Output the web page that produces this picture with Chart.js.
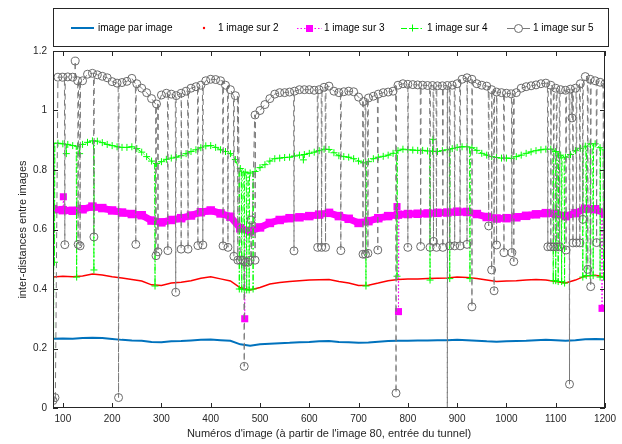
<!DOCTYPE html>
<html>
<head>
<meta charset="utf-8">
<script src="https://cdn.jsdelivr.net/npm/chart.js@4.4.1/dist/chart.umd.min.js"></script>
<style>
  html, body { margin: 0; padding: 0; background: #fff; }
  #grafico { display: block; }
</style>
</head>
<body>
<canvas id="grafico" width="622" height="444"></canvas>
<script>
// ---- eixos ----
const xTicks = [100, 200, 300, 400, 500, 600, 700, 800, 900, 1000, 1100, 1200];
const yTicks = [0, 0.2, 0.4, 0.6, 0.8, 1, 1.2];

// numeros de imagem (80 -> 1200)
const xPasso20 = Array.from({ length: 57 }, (_, i) => 80 + 20 * i);
const xPasso10 = Array.from({ length: 113 }, (_, i) => 80 + 10 * i);

// image par image (passo 20)
const imagemPorImagem = [
  0.233, 0.234, 0.233, 0.235, 0.236, 0.235, 0.232, 0.229, 0.227, 0.226,
  0.222, 0.221, 0.224, 0.225, 0.227, 0.229, 0.230, 0.228, 0.226, 0.214,
  0.209, 0.214, 0.216, 0.218, 0.219, 0.221, 0.222, 0.224, 0.225, 0.222,
  0.221, 0.219, 0.220, 0.223, 0.225, 0.226, 0.226, 0.227, 0.227, 0.228,
  0.228, 0.229, 0.228, 0.226, 0.224, 0.223, 0.224, 0.225, 0.226, 0.228,
  0.229, 0.228, 0.226, 0.228, 0.231, 0.232, 0.231
];

// 1 image sur 2 (passo 20)
const umSobre2 = [
  0.440, 0.443, 0.441, 0.444, 0.450, 0.447, 0.441, 0.437, 0.432, 0.427,
  0.414, 0.412, 0.420, 0.423, 0.428, 0.436, 0.441, 0.434, 0.427, 0.404,
  0.397, 0.405, 0.417, 0.422, 0.425, 0.428, 0.430, 0.431, 0.432, 0.425,
  0.420, 0.412, 0.413, 0.420, 0.428, 0.432, 0.434, 0.434, 0.435, 0.436,
  0.437, 0.440, 0.439, 0.435, 0.430, 0.425, 0.427, 0.428, 0.430, 0.432,
  0.430, 0.425, 0.420, 0.430, 0.444, 0.446, 0.440
];

// 1 image sur 3 (passo 20) + pontos fora da faixa
const umSobre3 = [
  0.668, 0.665, 0.663, 0.668, 0.677, 0.672, 0.664, 0.657, 0.652, 0.648,
  0.630, 0.624, 0.632, 0.638, 0.647, 0.658, 0.664, 0.654, 0.643, 0.604,
  0.594, 0.607, 0.622, 0.632, 0.638, 0.641, 0.645, 0.650, 0.656, 0.645,
  0.636, 0.622, 0.628, 0.638, 0.645, 0.650, 0.652, 0.653, 0.654, 0.656,
  0.657, 0.660, 0.659, 0.652, 0.642, 0.637, 0.638, 0.641, 0.646, 0.651,
  0.655, 0.653, 0.645, 0.655, 0.670, 0.668, 0.655
];
const picos3X = [101, 469, 778, 781, 1194];
const picos3Y = [0.710, 0.300, 0.677, 0.324, 0.335];

// 1 image sur 4 (passo 10) + quedas
const umSobre4 = [
  0.890, 0.890, 0.888, 0.886, 0.882, 0.880, 0.886, 0.893, 0.898, 0.897,
  0.892, 0.886, 0.882, 0.878, 0.876, 0.876, 0.878, 0.872, 0.860, 0.845,
  0.830, 0.822, 0.828, 0.836, 0.840, 0.843, 0.848, 0.855, 0.862, 0.868,
  0.875, 0.881, 0.882, 0.876, 0.868, 0.862, 0.855, 0.835, 0.805, 0.793,
  0.790, 0.795, 0.808, 0.818, 0.830, 0.838, 0.840, 0.842, 0.843, 0.847,
  0.850, 0.852, 0.856, 0.860, 0.865, 0.870, 0.869, 0.858, 0.848, 0.845,
  0.843, 0.838, 0.830, 0.824, 0.828, 0.838, 0.843, 0.846, 0.850, 0.856,
  0.865, 0.870, 0.868, 0.867, 0.866, 0.866, 0.864, 0.863, 0.862, 0.865,
  0.868, 0.872, 0.876, 0.878, 0.878, 0.875, 0.866, 0.856, 0.850, 0.845,
  0.842, 0.840, 0.840, 0.839, 0.845, 0.850, 0.856, 0.861, 0.865, 0.868,
  0.870, 0.870, 0.862, 0.850, 0.843, 0.852, 0.865, 0.873, 0.880, 0.888,
  0.888, 0.875, 0.868
];
const quedas4X = [81, 83, 107, 128, 134, 163, 287, 458, 463, 468, 473, 478, 486, 588,
  715, 778, 845, 851, 885, 926, 1095, 1100, 1105, 1112, 1118, 1155, 1162, 1170, 1176, 1190, 1197];
const quedas4Y = [0.0, 0.49, 0.855, 0.44, 0.855, 0.464, 0.41, 0.40, 0.40, 0.398, 0.397, 0.397, 0.40, 0.834,
  0.41, 0.443, 0.43, 0.903, 0.435, 0.435, 0.428, 0.428, 0.425, 0.425, 0.42, 0.44, 0.445, 0.445, 0.445, 0.44, 0.44];

// 1 image sur 5 (passo 10) + quedas
const umSobre5 = [
  0.025, 1.112, 1.112, 1.113, 1.112, 1.100, 1.100, 1.122, 1.125, 1.120,
  1.115, 1.110, 1.097, 1.092, 1.094, 1.098, 1.108, 1.090, 1.075, 1.060,
  1.040, 1.022, 1.052, 1.058, 1.055, 1.050, 1.058, 1.065, 1.075, 1.080,
  1.085, 1.100, 1.105, 1.104, 1.100, 1.085, 1.070, 1.050, 0.497, 0.490,
  0.497, 0.985, 1.000, 1.020, 1.040, 1.055, 1.060, 1.060, 1.062, 1.065,
  1.070, 1.070, 1.070, 1.068, 1.070, 1.078, 1.082, 1.065, 1.060, 1.063,
  1.065, 1.063, 1.045, 1.030, 1.042, 1.048, 1.055, 1.060, 1.062, 1.065,
  1.085, 1.090, 1.088, 1.087, 1.086, 1.085, 1.084, 1.084, 1.083, 1.083,
  1.084, 1.085, 1.090, 1.105, 1.110, 1.105, 1.090, 1.085, 1.082, 1.070,
  1.062, 1.060, 1.058, 1.056, 1.060, 1.075, 1.080, 1.083, 1.086, 1.090,
  1.092, 1.085, 1.075, 1.070, 1.068, 1.072, 1.075, 1.090, 1.114, 1.105,
  1.100, 1.095, 1.090
];
const quedas5X = [84, 104, 125, 131, 135, 163, 213, 248, 289, 293, 313, 329, 340, 354, 374, 384,
  425, 435, 447, 455, 465, 468, 476, 482, 490, 569, 617, 625, 633, 664, 709, 714, 719, 739,
  776, 800, 826, 845, 852, 858, 871, 880, 885, 895, 906, 920, 930, 964, 970, 975, 980, 995,
  1011, 1015, 1084, 1090, 1096, 1102, 1108, 1121, 1128, 1133, 1135, 1142, 1149, 1155, 1165,
  1171, 1183, 1197];
const quedas5Y = [0.035, 0.549, 1.166, 0.55, 0.545, 0.575, 0.035, 0.55, 0.512, 0.525, 0.529, 0.389,
  0.534, 0.534, 0.546, 0.548, 0.545, 0.54, 0.51, 0.497, 0.497, 0.14, 0.49, 0.632, 0.497, 0.528,
  0.54, 0.54, 0.54, 0.529, 0.517, 0.517, 0.52, 0.531, 0.05, 0.54, 0.543, 0.54, 0.56, 0.54, 0.54,
  -0.2, 0.545, 0.545, 0.545, 0.55, 0.34, 0.612, 0.464, 0.394, 0.548, 0.522, 0.522, 0.492, 0.542,
  0.542, 0.542, 0.542, 0.542, 0.531, 0.08, 0.975, 0.555, 0.555, 0.555, 0.634, 0.466, 0.408,
  0.556, 0.548];

// ---- montagem dos pontos ----
function pontos(xs, ys) {
  return xs.map((x, i) => ({ x: x, y: ys[i] }));
}

// insere as quedas como traços quase verticais, presos ao valor mais próximo
function comQuedas(base, qx, qy) {
  const pts = base.slice();
  qx.forEach((x, i) => {
    const perto = base.reduce((a, b) => Math.abs(b.x - x) < Math.abs(a.x - x) ? b : a);
    pts.push({ x: x - 0.8, y: perto.y, ancora: true });
    pts.push({ x: x, y: qy[i] });
    pts.push({ x: x + 0.8, y: perto.y, ancora: true });
  });
  return pts.sort((a, b) => a.x - b.x);
}

function soPicos(base, qx, qy) {
  const pts = [];
  qx.forEach((x, i) => {
    const perto = base.reduce((a, b) => Math.abs(b.x - x) < Math.abs(a.x - x) ? b : a);
    pts.push({ x: x - 0.8, y: perto.y, ancora: true });
    pts.push({ x: x, y: qy[i] });
    pts.push({ x: x + 0.8, y: perto.y, ancora: true });
    pts.push({ x: x + 0.9, y: null });
  });
  return pts;
}

const base3 = pontos(xPasso20, umSobre3);
const base4 = pontos(xPasso10, umSobre4);
const base5 = pontos(xPasso10, umSobre5);

const raio = r => c => (c.raw && c.raw.ancora ? 0 : r);

const AZUL = "#0072bd";
const VERMELHO = "#ff0000";
const MAGENTA = "#ff00ff";
const VERDE = "#00ff00";
const CINZA = "#7a7a7a";

const datasets = [
  {
    label: "1 image sur 5",
    data: comQuedas(base5, quedas5X, quedas5Y),
    borderColor: CINZA,
    borderWidth: 1,
    borderDash: [6, 4],
    pointStyle: "circle",
    pointRadius: raio(4),
    pointBorderColor: "#6a6a6a",
    pointBackgroundColor: "rgba(0,0,0,0)",
    pointBorderWidth: 1,
    order: 1
  },
  {
    label: "1 image sur 4",
    data: comQuedas(base4, quedas4X, quedas4Y),
    borderColor: VERDE,
    borderWidth: 1,
    borderDash: [6, 2, 1.5, 2],
    pointStyle: "cross",
    pointRadius: raio(3.5),
    pointBorderColor: VERDE,
    pointBorderWidth: 1,
    order: 2
  },
  {
    label: "1 image sur 3",
    data: base3,
    borderColor: MAGENTA,
    borderWidth: 7,
    pointStyle: "rect",
    pointRadius: 6,
    pointBorderWidth: 0,
    pointBackgroundColor: MAGENTA,
    order: 3
  },
  {
    label: "picos 1 image sur 3",
    data: soPicos(base3, picos3X, picos3Y),
    borderColor: MAGENTA,
    borderWidth: 1,
    borderDash: [1.5, 2],
    spanGaps: false,
    pointStyle: "rect",
    pointRadius: raio(5),
    pointBorderWidth: 0,
    pointBackgroundColor: MAGENTA,
    order: 3
  },
  {
    label: "1 image sur 2",
    data: pontos(xPasso20, umSobre2),
    borderColor: VERMELHO,
    borderWidth: 1.5,
    pointRadius: 0,
    order: 4
  },
  {
    label: "image par image",
    data: pontos(xPasso20, imagemPorImagem),
    borderColor: AZUL,
    borderWidth: 2,
    pointRadius: 0,
    order: 5
  }
];

// ---- moldura estilo matlab (caixa + ticks internos) ----
const moldura = {
  id: "moldura",
  afterDatasetsDraw(chart) {
    const c = chart.ctx;
    const a = chart.chartArea;
    const sx = chart.scales.x, sy = chart.scales.y;
    c.save();
    c.strokeStyle = "#262626";
    c.lineWidth = 1;
    c.strokeRect(a.left + 0.5, a.top + 0.5, a.right - a.left - 1, a.bottom - a.top - 1);
    c.beginPath();
    xTicks.forEach(v => {
      const px = Math.round(sx.getPixelForValue(v)) + 0.5;
      c.moveTo(px, a.bottom); c.lineTo(px, a.bottom - 5);
      c.moveTo(px, a.top); c.lineTo(px, a.top + 5);
    });
    yTicks.forEach(v => {
      const py = Math.round(sy.getPixelForValue(v)) + 0.5;
      c.moveTo(a.left, py); c.lineTo(a.left + 5, py);
      c.moveTo(a.right, py); c.lineTo(a.right - 5, py);
    });
    c.stroke();
    c.restore();
  }
};

// ---- legenda horizontal em caixa ----
const legenda = {
  id: "legenda",
  afterDraw(chart) {
    const c = chart.ctx;
    const ym = 28;
    c.save();
    c.fillStyle = "#fff";
    c.fillRect(53, 8, 555, 39);
    c.strokeStyle = "#262626";
    c.lineWidth = 1;
    c.strokeRect(53.5, 8.5, 555, 38);
    c.font = '10px "Liberation Sans", Arial, sans-serif';
    c.fillStyle = "#000";
    c.textBaseline = "middle";

    // image par image
    c.strokeStyle = AZUL; c.lineWidth = 2;
    c.beginPath(); c.moveTo(71, ym); c.lineTo(94, ym); c.stroke();
    c.fillText("image par image", 98, ym + 0.5);

    // 1 image sur 2
    c.fillStyle = VERMELHO;
    c.beginPath(); c.arc(204, ym, 1.2, 0, Math.PI * 2); c.fill();
    c.fillStyle = "#000";
    c.fillText("1 image sur 2", 218, ym + 0.5);

    // 1 image sur 3
    c.strokeStyle = MAGENTA; c.lineWidth = 1; c.setLineDash([1.5, 2]);
    c.beginPath(); c.moveTo(297, ym + 0.5); c.lineTo(322, ym + 0.5); c.stroke();
    c.setLineDash([]);
    c.fillStyle = MAGENTA; c.fillRect(306, ym - 3, 7, 7);
    c.fillStyle = "#000";
    c.fillText("1 image sur 3", 324, ym + 0.5);

    // 1 image sur 4
    c.strokeStyle = VERDE; c.lineWidth = 1; c.setLineDash([6, 2, 1.5, 2]);
    c.beginPath(); c.moveTo(401, ym + 0.5); c.lineTo(424, ym + 0.5); c.stroke();
    c.setLineDash([]);
    c.beginPath(); c.moveTo(412.5, ym - 3.5); c.lineTo(412.5, ym + 3.5);
    c.moveTo(409, ym + 0.5); c.lineTo(416, ym + 0.5); c.stroke();
    c.fillText("1 image sur 4", 427, ym + 0.5);

    // 1 image sur 5
    c.strokeStyle = CINZA; c.lineWidth = 1;
    c.beginPath(); c.moveTo(507, ym + 0.5); c.lineTo(514.5, ym + 0.5);
    c.moveTo(522.5, ym + 0.5); c.lineTo(530, ym + 0.5); c.stroke();
    c.strokeStyle = "#6a6a6a";
    c.beginPath(); c.arc(518.5, ym + 0.5, 4, 0, Math.PI * 2); c.stroke();
    c.fillText("1 image sur 5", 533, ym + 0.5);
    c.restore();
  }
};

Chart.defaults.font.family = '"Liberation Sans", Arial, sans-serif';
Chart.defaults.color = "#262626";

new Chart(document.getElementById("grafico").getContext("2d"), {
  type: "line",
  data: { datasets: datasets },
  options: {
    responsive: false,
    animation: false,
    events: [],
    layout: { padding: { top: 51, right: 17, left: 0, bottom: 0 } },
    elements: { line: { tension: 0 } },
    plugins: { legend: { display: false }, tooltip: { enabled: false } },
    scales: {
      x: {
        type: "linear",
        min: 80,
        max: 1200,
        afterBuildTicks: s => { s.ticks = xTicks.map(v => ({ value: v })); },
        afterFit: s => { s.height = 36; },
        grid: { display: false, drawTicks: false },
        border: { display: false },
        ticks: { font: { size: 10 }, padding: 5, maxRotation: 0, callback: v => String(v) },
        title: {
          display: true,
          text: "Numéros d'image (à partir de l'image 80, entrée du tunnel)",
          font: { size: 11 },
          padding: { top: 0, bottom: 3 }
        }
      },
      y: {
        min: 0,
        max: 1.2,
        afterBuildTicks: s => { s.ticks = yTicks.map(v => ({ value: v })); },
        afterFit: s => { s.width = 53; },
        grid: { display: false, drawTicks: false },
        border: { display: false },
        ticks: { font: { size: 10 }, padding: 6, callback: v => String(v) },
        title: {
          display: true,
          text: "inter-distances entre images",
          font: { size: 11 },
          padding: { top: 16, bottom: 0 }
        }
      }
    }
  },
  plugins: [moldura, legenda]
});
</script>
</body>
</html>
